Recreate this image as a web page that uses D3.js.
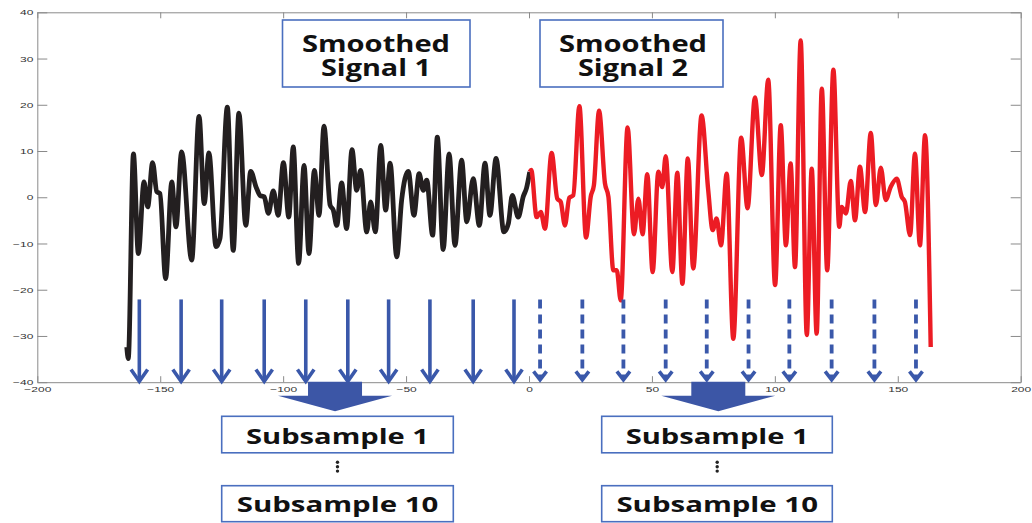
<!DOCTYPE html>
<html>
<head>
<meta charset="utf-8">
<script src="https://cdn.jsdelivr.net/npm/d3@7"></script>
<style>
  html, body { margin: 0; padding: 0; background: #fff; }
  svg { display: block; }
</style>
</head>
<body>
<svg id="chart" width="1032" height="523"></svg>
<script>
// ---------------- data ----------------
const xTicks = [-200, -150, -100, -50, 0, 50, 100, 150, 200];
const yTicks = [-40, -30, -20, -10, 0, 10, 20, 30, 40];

const signal1X = [-163.6, -163.0, -160.9, -158.9, -156.6, -155.1, -153.1, -151.4, -150.1, -147.8,
  -145.3, -143.6, -141.3, -137.2, -134.2, -132.1, -130.2, -127.3, -125.7, -122.7,
  -120.3, -118.0, -115.2, -113.2, -111.0, -109.4, -107.7, -106.0, -104.0, -102.0,
  -99.9, -97.7, -95.9, -93.7, -91.5, -89.5, -87.3, -85.4, -83.4, -80.9,
  -79.6, -78.2, -76.2, -74.2, -72.0, -70.1, -68.5, -66.0, -64.4, -62.5,
  -60.3, -58.3, -56.5, -53.8, -51.8, -49.1, -46.8, -44.7, -43.0, -41.6,
  -39.2, -37.3, -34.9, -32.5, -30.1, -27.4, -25.3, -22.7, -20.2, -17.9,
  -15.9, -13.4, -10.2, -8.4, -6.8, -4.4, -2.3, -1.0, 0.3];
const signal1Y = [-32.4, -34.9, 9.4, -12.2, 3.3, -2.1, 7.5, 1.2, 0.8, -17.6,
  3.3, -6.4, 9.8, -13.6, 17.5, -1.4, 9.6, -10.7, -8.9, 19.5,
  -11.5, 18.2, -6.1, 5.6, 2.2, 0.4, 0.1, -3.5, 1.4, -3.9,
  7.5, -4.3, 10.9, -14.3, 6.9, -12.2, 5.8, -3.9, 15.4, -1.7,
  -2.8, -6.1, 3.1, -6.8, 10.3, 1.5, 5.8, -7.5, -1.0, -7.5,
  11.2, -2.8, 7.4, -12.9, -0.6, 5.6, -3.9, 5.1, 1.5, 3.7,
  -8.2, 13.0, -11.3, 9.4, -10.4, 8.0, -5.3, 4.0, -6.1, 7.4,
  -3.9, 8.4, -7.5, -5.7, 0.4, -4.3, 0.2, 2.0, 5.5];

const signal2X = [0.3, 0.9, 3.1, 4.8, 6.5, 9.2, 11.5, 12.9, 14.6, 16.4,
  18.0, 20.5, 23.2, 25.1, 26.4, 28.5, 30.9, 32.3, 34.3, 35.7,
  37.3, 40.1, 42.7, 44.5, 46.2, 48.1, 50.3, 52.6, 54.2, 55.6,
  58.3, 60.3, 62.4, 64.6, 66.8, 70.2, 72.9, 74.7, 76.3, 78.1,
  80.4, 83.1, 86.3, 88.9, 91.9, 94.7, 97.3, 100.1, 102.4, 104.5,
  106.4, 108.2, 110.5, 113.0, 115.0, 117.0, 119.1, 121.3, 123.8, 126.2,
  127.2, 128.9, 130.9, 132.6, 134.6, 136.7, 139.0, 141.1, 143.1, 145.1,
  147.1, 149.6, 151.6, 152.9, 155.0, 157.0, 159.0, 161.1, 163.4];
const signal2Y = [5.5, 5.9, -4.3, -3.2, -6.8, 9.6, -0.3, -1.0, -6.1, -0.1,
  0.4, 19.7, -8.7, 0.1, 2.6, 18.7, 3.0, 0.1, -15.8, -15.8,
  -22.3, 15.1, -8.0, -0.3, -8.0, 5.0, -16.2, 5.5, 2.2, 8.9,
  -16.2, 5.3, -18.7, 8.4, -15.4, 17.7, 1.5, -7.1, -4.6, -10.4,
  5.1, -30.6, 12.9, -2.4, 21.6, 4.8, 25.4, -19.0, 15.6, -10.4,
  7.3, -15.1, 33.9, -29.8, 6.2, -29.5, 23.5, -15.8, 27.6, -6.4,
  -2.1, -3.5, 3.5, -5.0, 6.6, -3.2, 13.9, -1.7, 6.4, -0.6,
  2.2, 4.0, 0.1, -1.0, -8.2, 9.4, -10.4, 13.4, -32.4];

const solidArrowX  = [-158.5, -141.5, -125.0, -107.7, -90.8, -73.7, -57.1, -40.3, -22.7, -6.1];
const dashedArrowX = [4.5, 21.7, 38.4, 55.6, 72.3, 89.3, 105.9, 123.1, 140.5, 157.4];
const arrowTopValue = -22.1;
const arrowTipValue = -40;
const blockArrowX = [-78.9, 77.0];

const signalTitles = [["Smoothed", "Signal 1"], ["Smoothed", "Signal 2"]];
const subsampleLabels = ["Subsample 1", "Subsample 10"];

// ---------------- drawing ----------------
const svg = d3.select("#chart");
const x = d3.scaleLinear().domain([-200, 200]).range([37.3, 1020.7]);
const y = d3.scaleLinear().domain([-40, 40]).range([382.2, 12.3]);

const axisColor = "#8a8a8a";
const fmt = d => (d < 0 ? "\u2212" + Math.abs(d) : String(d));

function styleAxis(g) {
  g.selectAll(".domain").attr("stroke", axisColor).attr("stroke-width", 1);
  g.selectAll(".tick line").attr("stroke", axisColor).attr("stroke-width", 1);
}

// bottom axis
const gB = svg.append("g").attr("transform", `translate(0,${y(-40)})`)
  .call(d3.axisBottom(x).tickValues(xTicks).tickSizeInner(-6).tickSizeOuter(0).tickFormat(fmt));
styleAxis(gB);
gB.selectAll(".tick text")
  .attr("y", 10).attr("dy", 0)
  .attr("fill", "#333")
  .attr("font-family", "'Liberation Sans', Arial, sans-serif")
  .attr("font-size", 8)
  .attr("transform", "scale(1.5,1)");

// top axis
const gT = svg.append("g").attr("transform", `translate(0,${y(40)})`)
  .call(d3.axisTop(x).tickValues(xTicks).tickSizeInner(-6).tickSizeOuter(0).tickFormat(""));
styleAxis(gT);

// left axis
const gL = svg.append("g").attr("transform", `translate(${x(-200)},0)`)
  .call(d3.axisLeft(y).tickValues(yTicks).tickSizeInner(-10).tickSizeOuter(0).tickFormat(fmt));
styleAxis(gL);
gL.selectAll(".tick text")
  .attr("x", -2.6).attr("dy", "0.33em")
  .attr("fill", "#333")
  .attr("text-anchor", "end")
  .attr("font-family", "'Liberation Sans', Arial, sans-serif")
  .attr("font-size", 8)
  .attr("transform", "scale(1.5,1)");

// right axis
const gR = svg.append("g").attr("transform", `translate(${x(200)},0)`)
  .call(d3.axisRight(y).tickValues(yTicks).tickSizeInner(-10).tickSizeOuter(0).tickFormat(""));
styleAxis(gR);

// signals
const line = d3.line().x(d => x(d[0])).y(d => y(d[1])).curve(d3.curveMonotoneX);
const s1 = signal1X.map((v, i) => [v, signal1Y[i]]);
const s2 = signal2X.map((v, i) => [v, signal2Y[i]]);

svg.append("path").datum(s1).attr("d", line)
  .attr("fill", "none").attr("stroke", "#231f20").attr("stroke-width", 4.8)
  .attr("stroke-linejoin", "round").attr("stroke-linecap", "butt");
svg.append("path").datum(s2).attr("d", line)
  .attr("fill", "none").attr("stroke", "#ec1c24").attr("stroke-width", 4.4)
  .attr("stroke-linejoin", "round").attr("stroke-linecap", "butt");

// thin sampling arrows
const arrowBlue = "#3a58aa";
const yTop = y(arrowTopValue);
const yTip = y(arrowTipValue) - 0.8;

const solid = svg.append("g").selectAll("g").data(solidArrowX).join("g");
solid.append("line")
  .attr("x1", d => x(d)).attr("x2", d => x(d))
  .attr("y1", yTop).attr("y2", yTip - 2)
  .attr("stroke", arrowBlue).attr("stroke-width", 3.6);
solid.append("path")
  .attr("d", d => `M${x(d) - 8.3},${yTip - 12} L${x(d)},${yTip} L${x(d) + 8.3},${yTip - 12}`)
  .attr("fill", "none").attr("stroke", arrowBlue).attr("stroke-width", 3.6)
  .attr("stroke-linejoin", "miter");

const dashed = svg.append("g").selectAll("g").data(dashedArrowX).join("g");
dashed.append("line")
  .attr("x1", d => x(d)).attr("x2", d => x(d))
  .attr("y1", yTop).attr("y2", yTip - 3)
  .attr("stroke", arrowBlue).attr("stroke-width", 3.8)
  .attr("stroke-dasharray", "9,6");
dashed.append("path")
  .attr("d", d => `M${x(d) - 6.5},${yTip - 10} L${x(d)},${yTip - 1.5} L${x(d) + 6.5},${yTip - 10}`)
  .attr("fill", "none").attr("stroke", arrowBlue).attr("stroke-width", 3.6)
  .attr("stroke-linejoin", "miter");

// block arrows
const blockBlue = "#3c56a6";
blockArrowX.forEach(v => {
  const cx = x(v);
  const top = y(-40) - 0.5;
  const p = d3.path();
  p.moveTo(cx - 27, top);
  p.lineTo(cx + 27, top);
  p.lineTo(cx + 27, top + 14);
  p.lineTo(cx + 57, top + 14);
  p.lineTo(cx, top + 29.5);
  p.lineTo(cx - 57, top + 14);
  p.lineTo(cx - 27, top + 14);
  p.closePath();
  svg.append("path").attr("d", p.toString()).attr("fill", blockBlue);
});

// text boxes
const boxStroke = "#4a6fbf";
function box(x0, y0, w, h) {
  svg.append("rect").attr("x", x0).attr("y", y0).attr("width", w).attr("height", h)
    .attr("fill", "#fff").attr("stroke", boxStroke).attr("stroke-width", 1.6);
}
function textEl(size) {
  return svg.append("text")
    .attr("text-anchor", "middle")
    .attr("font-family", "'Open Sans', Lato, sans-serif")
    .attr("font-weight", 700)
    .attr("font-size", size)
    .attr("fill", "#111");
}
function label(txt, cx, by, size, len) {
  textEl(size).attr("x", cx).attr("y", by)
    .attr("textLength", len)
    .attr("lengthAdjust", "spacingAndGlyphs")
    .text(txt);
}

// signal title boxes (two lines in one text element)
const titleBoxes = [{x0: 282.5, w: 187.5, cx: 376}, {x0: 540, w: 183, cx: 633}];
titleBoxes.forEach((b, i) => {
  box(b.x0, 20, b.w, 67);
  const t = textEl(24);
  t.append("tspan").attr("x", b.cx).attr("y", 51.5)
    .attr("textLength", 148).attr("lengthAdjust", "spacingAndGlyphs")
    .text(signalTitles[i][0]);
  t.append("tspan").attr("x", b.cx).attr("y", 75.5)
    .attr("textLength", 110).attr("lengthAdjust", "spacingAndGlyphs")
    .text(signalTitles[i][1]);
});

// subsample boxes
const subCols = [{x0: 221.7, w: 231.6, cx: 337.5}, {x0: 601.7, w: 230.6, cx: 717.2}];
subCols.forEach(c => {
  box(c.x0, 416.3, c.w, 36.5);
  label(subsampleLabels[0], c.cx, 443.5, 21, 183);
  box(c.x0, 485.7, c.w, 36);
  label(subsampleLabels[1], c.cx, 512, 21, 201.6);
  [462.3, 466.7, 471.1].forEach(dy => {
    svg.append("circle").attr("cx", c.cx).attr("cy", dy).attr("r", 1.7).attr("fill", "#222");
  });
});
</script>
</body>
</html>
